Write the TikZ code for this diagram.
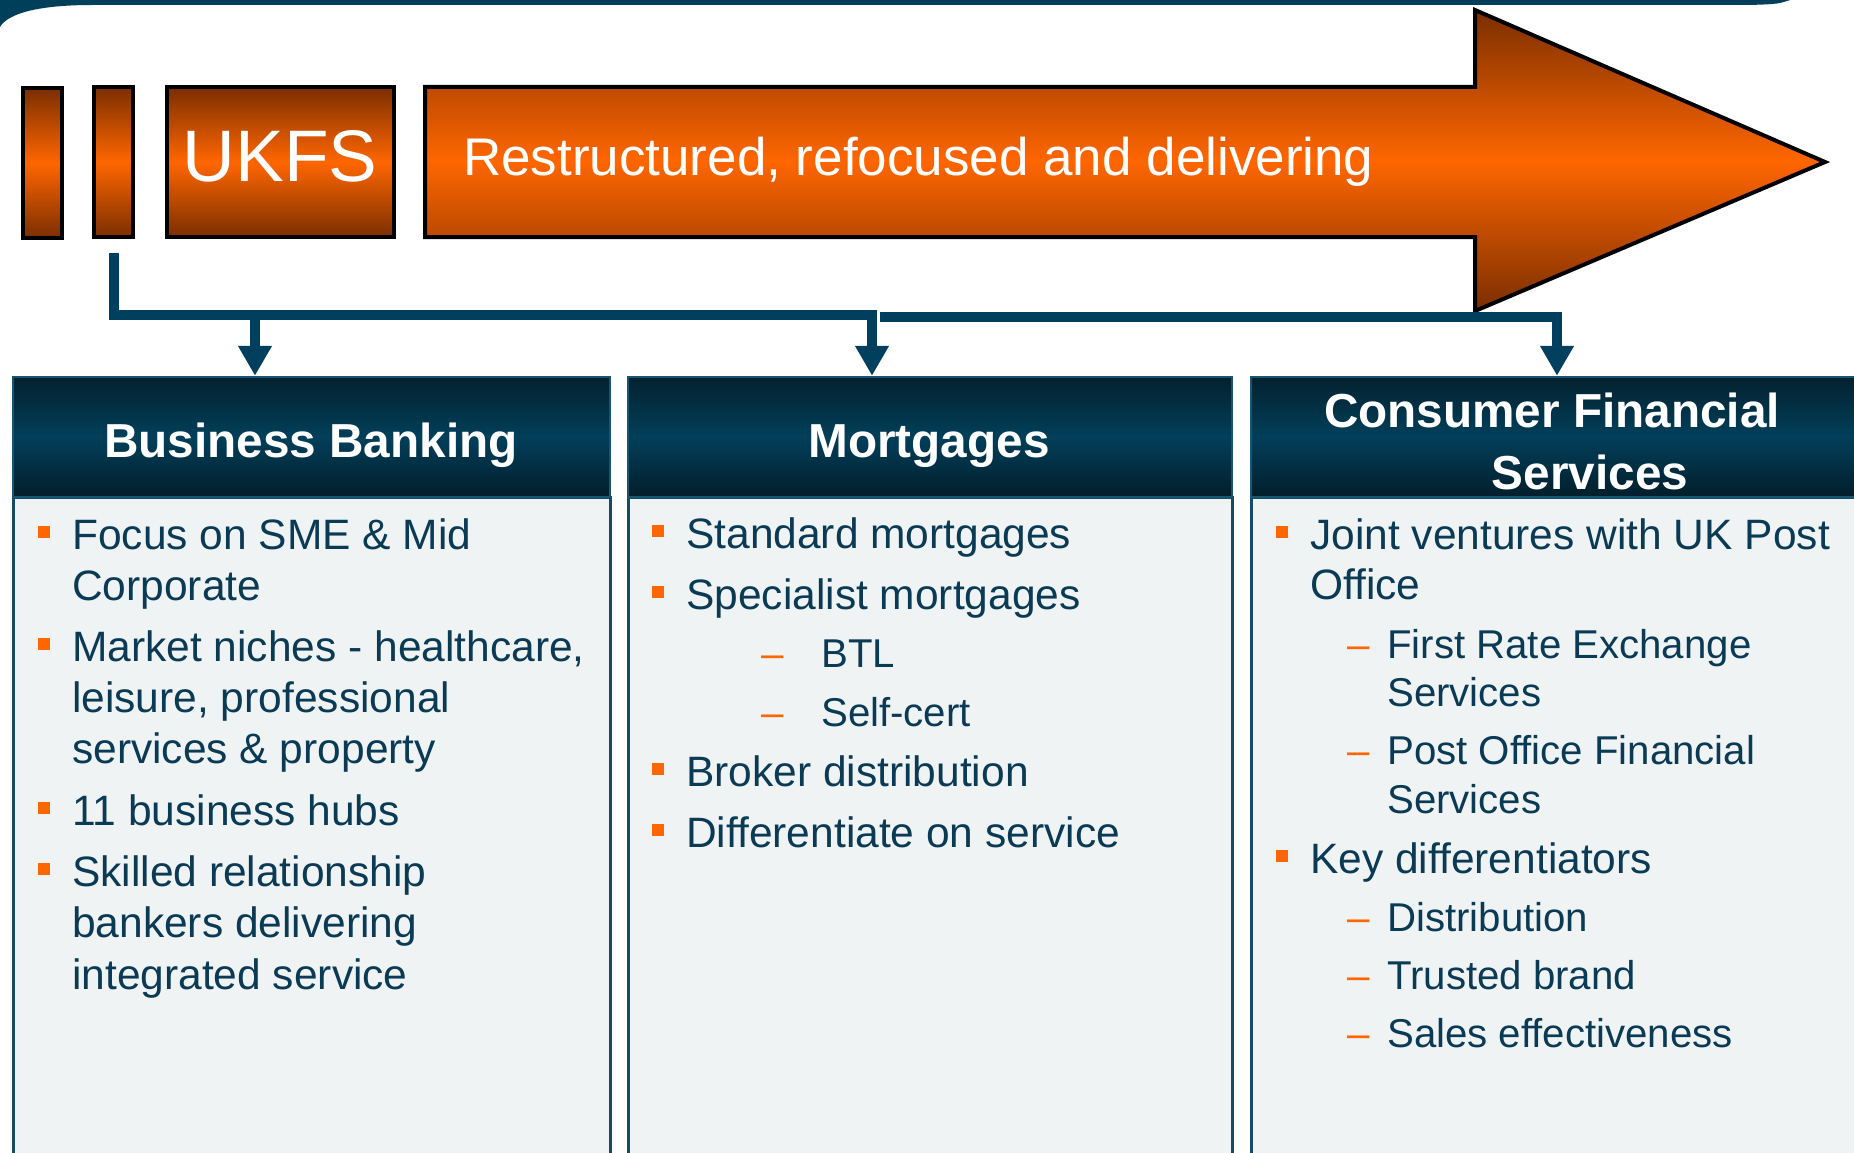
\documentclass[tikz,border=0pt]{standalone}
\usepackage{fontspec}
\setmainfont{Liberation Sans}
\usetikzlibrary{arrows.meta}

\definecolor{bandteal}{HTML}{003F5A}
\definecolor{conteal}{HTML}{00405E}
\definecolor{hdrtop}{HTML}{03212F}
\definecolor{hdrmid}{HTML}{023F5A}
\definecolor{hdrbot}{HTML}{021E2B}
\definecolor{hdrline}{HTML}{175673}
\definecolor{bodyfill}{HTML}{EFF3F4}
\definecolor{bodyline}{HTML}{174A64}
\definecolor{bodytext}{HTML}{0B3A55}
\definecolor{brandorange}{HTML}{FF6600}
\definecolor{burnt}{HTML}{7A2E00}

\tikzset{
  orangeblock/.style={draw=black, line width=4pt, top color=burnt, bottom color=burnt, middle color=brandorange, inner sep=0pt},
  conn/.style={draw=conteal, line width=10pt, line join=miter, -{Triangle[width=32pt,length=30pt]}},
  hdr/.style={draw=hdrline, line width=2.5pt, top color=hdrtop, bottom color=hdrbot, middle color=hdrmid, inner sep=0pt},
  panel/.style={draw=bodyline, line width=3pt, fill=bodyfill},
  hdrtitle/.style={text=white, font=\fontsize{47.7pt}{57pt}\selectfont\bfseries, inner sep=0pt, anchor=base},
  itemtext/.style={text=bodytext, font=\fontsize{42.5pt}{51pt}\selectfont, inner sep=0pt, anchor=base west},
  subtext/.style={itemtext, font=\fontsize{40.2pt}{48pt}\selectfont},
  dashmark/.style={text=brandorange, font=\fontsize{40.2pt}{48pt}\selectfont, inner sep=0pt, anchor=base west},
  sqbullet/.style={fill=brandorange},
  bannertext/.style={text=white, inner sep=0pt},
}

% bullet item line: name, bullet x, text x, baseline, text
\newcommand\bulletline[5]{%
  \fill[sqbullet] (#2,#4-23) rectangle (#2+12,#4-11);
  \node[itemtext] (#1) at (#3,#4) {#5};}
% continuation line of a bullet item: name, text x, baseline, text
\newcommand\plainline[4]{\node[itemtext] (#1) at (#2,#3) {#4};}
% continuation line of a sub-item: name, text x, baseline, text
\newcommand\subplainline[4]{\node[subtext] (#1) at (#2,#3) {#4};}
% sub-item line with an en dash: name, dash x, text x, baseline, text
\newcommand\dashline[5]{%
  \node[dashmark] (#1d) at (#2,#4) {\textendash};
  \node[subtext] (#1) at (#3,#4) {#5};}

\begin{document}
\begin{tikzpicture}[x=1pt, y=-1pt]
\useasboundingbox (0,0) rectangle (1854,1153);
\clip (0,0) rectangle (1854,1153);
\fill[white] (0,0) rectangle (1854,1153);

% top band with rounded ends
\fill[bandteal] (-5,-5) -- (1795,-5) -- (1790,0) .. controls (1778,4) .. (1750,5)
  -- (92,5) .. controls (40,5) and (8,13) .. (0,27) -- (-5,27) -- cycle;

% orange banner
\node[orangeblock, minimum width=39pt, minimum height=150pt] (bar1) at (42.5,163) {};
\node[orangeblock, minimum width=39pt, minimum height=150pt] (bar2) at (113.5,162) {};
\node[orangeblock, minimum width=227pt, minimum height=150pt] (ukfs) at (280.5,162) {};
\node[bannertext, font=\fontsize{73pt}{80pt}\selectfont, anchor=base] (ukfslabel) at (280,181) {UKFS};

\path[orangeblock, line join=miter] (425,87) -- (1475,87) -- (1475,10) -- (1825,162)
  -- (1475,311) -- (1475,237) -- (425,237) -- cycle;
\node[bannertext, font=\fontsize{53pt}{60pt}\selectfont, anchor=base west] (slogan) at (463,175)
  {Restructured, refocused and delivering};

% panels
\draw[panel] (13,497) rectangle (610,1175);
\draw[panel] (628,497) rectangle (1232,1175);
\draw[panel] (1251,497) rectangle (1880,1175);

\node[hdr, minimum width=597pt, minimum height=120pt] (h1) at (311.5,437) {};
\node[hdr, minimum width=604pt, minimum height=120pt] (h2) at (930,437) {};
\node[hdr, minimum width=629pt, minimum height=120pt] (h3) at (1565.5,437) {};

\node[hdrtitle] (t1) at (311,457) {Business Banking};
\node[hdrtitle] (t2) at (929,457) {Mortgages};
\node[hdrtitle] (t3a) at (1552,427) {Consumer Financial};
\node[hdrtitle] (t3b) at (1590,489) {Services};

% connectors
\coordinate (c0) at (114,253);
\coordinate (kM) at (872,315);
\coordinate (kB) at (255,315);
\draw[conn] (c0) |- (kM) -- (kM |- h2.north);
\draw[conn] (kB) -- (kB |- h1.north);
\coordinate (c1) at (880,317);
\coordinate (kC) at (1557,317);
\draw[conn] (c1) -- (kC) -- (kC |- h3.north);

% Business Banking
\bulletline{a1}{38}{72}{549}{Focus on SME \& Mid}
\plainline{a2}{72}{600}{Corporate}
\bulletline{a3}{38}{72}{661}{Market niches - healthcare,}
\plainline{a4}{72}{712}{leisure, professional}
\plainline{a5}{72}{763}{services \& property}
\bulletline{a6}{38}{72}{825}{11 business hubs}
\bulletline{a7}{38}{72}{886}{Skilled relationship}
\plainline{a8}{72}{937}{bankers delivering}
\plainline{a9}{72}{989}{integrated service}

% Mortgages
\bulletline{m1}{652}{686}{548}{Standard mortgages}
\bulletline{m2}{652}{686}{609}{Specialist mortgages}
\dashline{m3}{761}{821}{667}{BTL}
\dashline{m4}{761}{821}{726}{Self-cert}
\bulletline{m5}{652}{686}{786}{Broker distribution}
\bulletline{m6}{652}{686}{847}{Differentiate on service}

% Consumer Financial Services
\bulletline{s1}{1276}{1310}{549}{Joint ventures with UK Post}
\plainline{s2}{1310}{599}{Office}
\dashline{s3}{1347}{1387}{658}{First Rate Exchange}
\subplainline{s4}{1387}{706}{Services}
\dashline{s5}{1347}{1387}{764}{Post Office Financial}
\subplainline{s6}{1387}{813}{Services}
\bulletline{s7}{1276}{1310}{873}{Key differentiators}
\dashline{s8}{1347}{1387}{931}{Distribution}
\dashline{s9}{1347}{1387}{989}{Trusted brand}
\dashline{s10}{1347}{1387}{1047}{Sales effectiveness}
\end{tikzpicture}
\end{document}
